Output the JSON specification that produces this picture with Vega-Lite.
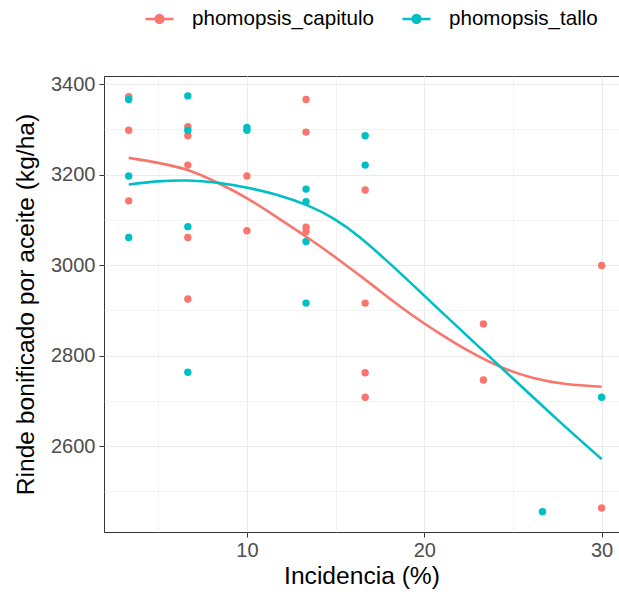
{
  "$schema": "https://vega.github.io/schema/vega-lite/v6.json",
  "autosize": {"type": "none"},
  "padding": {"left": 104, "top": 76, "right": 0, "bottom": 65},
  "width": 515,
  "height": 456,
  "background": "white",
  "config": {
    "font": "Liberation Sans",
    "view": {"stroke": "#333333", "strokeWidth": 1},
    "axis": {
      "labelFont": "Liberation Sans",
      "titleFont": "Liberation Sans",
      "labelColor": "#4D4D4D",
      "labelFontSize": 20,
      "titleFontSize": 24.6,
      "titleFontWeight": "normal",
      "titleColor": "#000000",
      "tickColor": "#333333",
      "tickSize": 5,
      "domain": false,
      "gridColor": "#EBEBEB"
    },
    "legend": {"labelFont": "Liberation Sans"}
  },
  "datasets": {
    "pts": [
      {"incidencia": 3.333, "rinde": 3372, "tipo": "phomopsis_capitulo"},
      {"incidencia": 3.333, "rinde": 3298, "tipo": "phomopsis_capitulo"},
      {"incidencia": 3.333, "rinde": 3142, "tipo": "phomopsis_capitulo"},
      {"incidencia": 6.667, "rinde": 3306, "tipo": "phomopsis_capitulo"},
      {"incidencia": 6.667, "rinde": 3286, "tipo": "phomopsis_capitulo"},
      {"incidencia": 6.667, "rinde": 3221, "tipo": "phomopsis_capitulo"},
      {"incidencia": 6.667, "rinde": 3061, "tipo": "phomopsis_capitulo"},
      {"incidencia": 6.667, "rinde": 2925, "tipo": "phomopsis_capitulo"},
      {"incidencia": 10, "rinde": 3197, "tipo": "phomopsis_capitulo"},
      {"incidencia": 10, "rinde": 3076, "tipo": "phomopsis_capitulo"},
      {"incidencia": 13.333, "rinde": 3366, "tipo": "phomopsis_capitulo"},
      {"incidencia": 13.333, "rinde": 3294, "tipo": "phomopsis_capitulo"},
      {"incidencia": 13.333, "rinde": 3084, "tipo": "phomopsis_capitulo"},
      {"incidencia": 13.333, "rinde": 3074, "tipo": "phomopsis_capitulo"},
      {"incidencia": 16.667, "rinde": 3166, "tipo": "phomopsis_capitulo"},
      {"incidencia": 16.667, "rinde": 2916, "tipo": "phomopsis_capitulo"},
      {"incidencia": 16.667, "rinde": 2762, "tipo": "phomopsis_capitulo"},
      {"incidencia": 16.667, "rinde": 2708, "tipo": "phomopsis_capitulo"},
      {"incidencia": 23.333, "rinde": 2870, "tipo": "phomopsis_capitulo"},
      {"incidencia": 23.333, "rinde": 2746, "tipo": "phomopsis_capitulo"},
      {"incidencia": 30, "rinde": 2999, "tipo": "phomopsis_capitulo"},
      {"incidencia": 30, "rinde": 2463, "tipo": "phomopsis_capitulo"},
      {"incidencia": 3.333, "rinde": 3366, "tipo": "phomopsis_tallo"},
      {"incidencia": 3.333, "rinde": 3197, "tipo": "phomopsis_tallo"},
      {"incidencia": 3.333, "rinde": 3061, "tipo": "phomopsis_tallo"},
      {"incidencia": 6.667, "rinde": 3374, "tipo": "phomopsis_tallo"},
      {"incidencia": 6.667, "rinde": 3298, "tipo": "phomopsis_tallo"},
      {"incidencia": 6.667, "rinde": 3085, "tipo": "phomopsis_tallo"},
      {"incidencia": 6.667, "rinde": 2763, "tipo": "phomopsis_tallo"},
      {"incidencia": 10, "rinde": 3304, "tipo": "phomopsis_tallo"},
      {"incidencia": 10, "rinde": 3298, "tipo": "phomopsis_tallo"},
      {"incidencia": 13.333, "rinde": 3168, "tipo": "phomopsis_tallo"},
      {"incidencia": 13.333, "rinde": 3140, "tipo": "phomopsis_tallo"},
      {"incidencia": 13.333, "rinde": 3052, "tipo": "phomopsis_tallo"},
      {"incidencia": 13.333, "rinde": 2916, "tipo": "phomopsis_tallo"},
      {"incidencia": 16.667, "rinde": 3286, "tipo": "phomopsis_tallo"},
      {"incidencia": 16.667, "rinde": 3221, "tipo": "phomopsis_tallo"},
      {"incidencia": 26.667, "rinde": 2455, "tipo": "phomopsis_tallo"},
      {"incidencia": 30, "rinde": 2708, "tipo": "phomopsis_tallo"}
    ],
    "fit": [
      {"incidencia": 3.333, "rinde": 3237, "tipo": "phomopsis_capitulo"},
      {"incidencia": 5.0, "rinde": 3226, "tipo": "phomopsis_capitulo"},
      {"incidencia": 6.65, "rinde": 3210, "tipo": "phomopsis_capitulo"},
      {"incidencia": 8.34, "rinde": 3182, "tipo": "phomopsis_capitulo"},
      {"incidencia": 10.03, "rinde": 3147, "tipo": "phomopsis_capitulo"},
      {"incidencia": 11.72, "rinde": 3105, "tipo": "phomopsis_capitulo"},
      {"incidencia": 13.41, "rinde": 3061, "tipo": "phomopsis_capitulo"},
      {"incidencia": 15.1, "rinde": 3014, "tipo": "phomopsis_capitulo"},
      {"incidencia": 17.13, "rinde": 2954, "tipo": "phomopsis_capitulo"},
      {"incidencia": 19.01, "rinde": 2898, "tipo": "phomopsis_capitulo"},
      {"incidencia": 20.9, "rinde": 2848, "tipo": "phomopsis_capitulo"},
      {"incidencia": 22.6, "rinde": 2808, "tipo": "phomopsis_capitulo"},
      {"incidencia": 24.3, "rinde": 2775, "tipo": "phomopsis_capitulo"},
      {"incidencia": 26.1, "rinde": 2751, "tipo": "phomopsis_capitulo"},
      {"incidencia": 28.0, "rinde": 2737, "tipo": "phomopsis_capitulo"},
      {"incidencia": 30, "rinde": 2731, "tipo": "phomopsis_capitulo"},
      {"incidencia": 3.333, "rinde": 3178, "tipo": "phomopsis_tallo"},
      {"incidencia": 4.95, "rinde": 3185, "tipo": "phomopsis_tallo"},
      {"incidencia": 6.65, "rinde": 3187, "tipo": "phomopsis_tallo"},
      {"incidencia": 8.34, "rinde": 3182, "tipo": "phomopsis_tallo"},
      {"incidencia": 10.03, "rinde": 3171, "tipo": "phomopsis_tallo"},
      {"incidencia": 11.72, "rinde": 3155, "tipo": "phomopsis_tallo"},
      {"incidencia": 13.41, "rinde": 3132, "tipo": "phomopsis_tallo"},
      {"incidencia": 14.91, "rinde": 3102, "tipo": "phomopsis_tallo"},
      {"incidencia": 16.38, "rinde": 3061, "tipo": "phomopsis_tallo"},
      {"incidencia": 17.7, "rinde": 3016, "tipo": "phomopsis_tallo"},
      {"incidencia": 19.01, "rinde": 2969, "tipo": "phomopsis_tallo"},
      {"incidencia": 21.83, "rinde": 2865, "tipo": "phomopsis_tallo"},
      {"incidencia": 24.65, "rinde": 2762, "tipo": "phomopsis_tallo"},
      {"incidencia": 27.46, "rinde": 2660, "tipo": "phomopsis_tallo"},
      {"incidencia": 30, "rinde": 2571, "tipo": "phomopsis_tallo"}
    ]
  },
  "encoding": {
    "x": {
      "field": "incidencia", "type": "quantitative",
      "scale": {"domain": [1.94, 30.98], "nice": false, "zero": false},
      "axis": {
        "title": "Incidencia (%)",
        "values": [5, 10, 15, 20, 25, 30],
        "labelExpr": "datum.value % 10 == 0 ? datum.label : ''",
        "tickOpacity": {"condition": {"test": "datum.value % 10 != 0", "value": 0}, "value": 1},
        "gridWidth": {"condition": {"test": "datum.value % 10 != 0", "value": 0.6}, "value": 1.1},
        "labelPadding": 3,
        "titlePadding": 4
      }
    },
    "y": {
      "field": "rinde", "type": "quantitative",
      "scale": {"domain": [2410, 3418], "nice": false, "zero": false},
      "axis": {
        "title": "Rinde bonificado por aceite (kg/ha)",
        "values": [2500, 2600, 2700, 2800, 2900, 3000, 3100, 3200, 3300, 3400],
        "labelExpr": "datum.value % 200 == 0 ? datum.label : ''",
        "format": "d",
        "tickOpacity": {"condition": {"test": "datum.value % 200 != 0", "value": 0}, "value": 1},
        "gridWidth": {"condition": {"test": "datum.value % 200 != 0", "value": 0.6}, "value": 1.1},
        "labelPadding": 4,
        "titlePadding": 12
      }
    },
    "color": {
      "field": "tipo", "type": "nominal",
      "scale": {"domain": ["phomopsis_capitulo", "phomopsis_tallo"], "range": ["#F8766D", "#00BFC4"]},
      "legend": {
        "title": null,
        "orient": "none",
        "direction": "horizontal",
        "legendX": 40,
        "legendY": -73,
        "labelFontSize": 20.6,
        "labelLimit": 0,
        "labelColor": "#000000",
        "labelOffset": 17,
        "columnPadding": 22,
        "symbolType": "M-1,0H1M-0.28,0A0.28,0.28,0,1,1,0.28,0A0.28,0.28,0,1,1,-0.28,0Z",
        "symbolSize": 784,
        "symbolStrokeWidth": 2.5,
        "padding": 0,
        "encode": {
          "symbols": {
            "update": {
              "fill": {"scale": "color", "field": "value"},
              "stroke": {"scale": "color", "field": "value"},
              "opacity": {"value": 1}
            }
          }
        }
      }
    }
  },
  "layer": [
    {
      "data": {"name": "pts"},
      "mark": {"type": "circle", "size": 55, "opacity": 1}
    },
    {
      "data": {"name": "fit"},
      "mark": {"type": "line", "strokeWidth": 2.6, "interpolate": "natural"}
    }
  ]
}
